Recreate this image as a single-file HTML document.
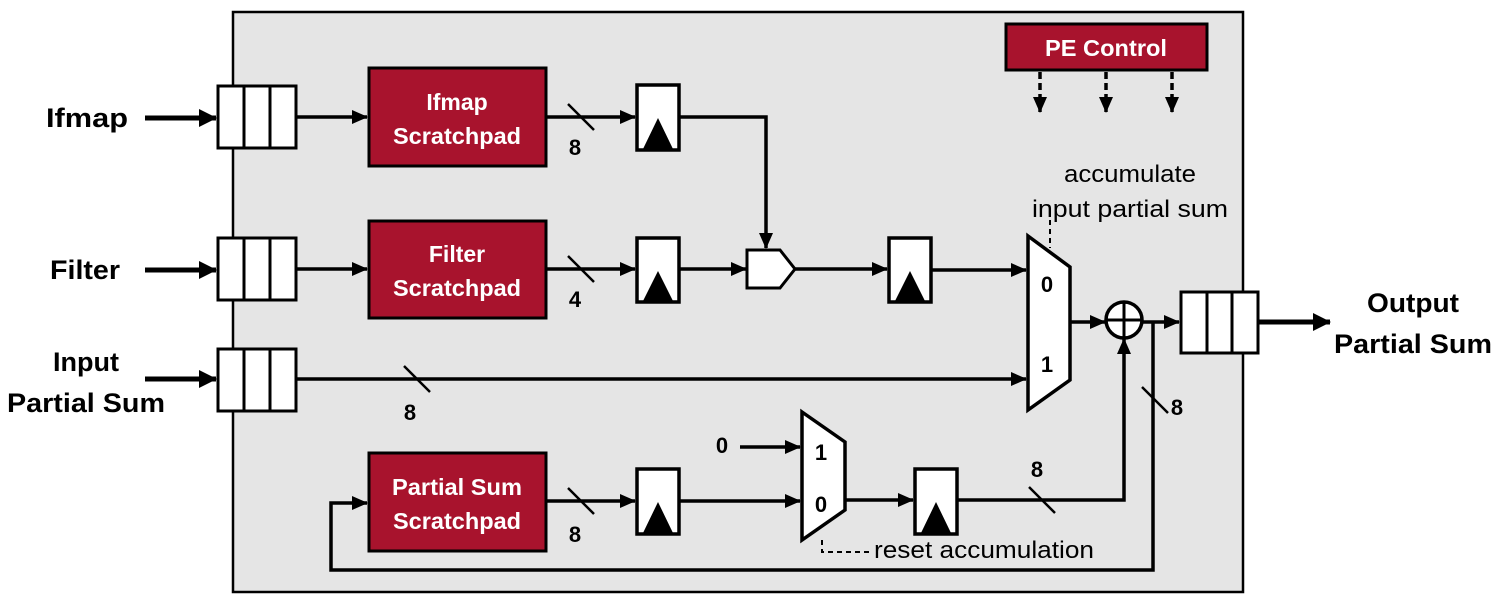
<!DOCTYPE html>
<html><head><meta charset="utf-8"><style>
html,body{margin:0;padding:0;background:#fff}
svg{display:block}
text{font-family:"Liberation Sans",sans-serif}
</style></head><body>
<svg width="1500" height="600" viewBox="0 0 1500 600" xmlns="http://www.w3.org/2000/svg">
<defs>
<marker id="a" markerWidth="16" markerHeight="16" refX="15" refY="8" orient="auto" markerUnits="userSpaceOnUse" viewBox="0 0 16 16"><path d="M0,1 L16,8 L0,15 z" fill="#000"/></marker>
<marker id="A" markerWidth="18" markerHeight="18" refX="17" refY="9" orient="auto" markerUnits="userSpaceOnUse" viewBox="0 0 18 18"><path d="M0,0 L18,9 L0,18 z" fill="#000"/></marker>
</defs>
<rect x="233" y="12" width="1010" height="580" fill="#e5e5e5" stroke="#000" stroke-width="2.5"/>

<g font-size="27" fill="#000" text-anchor="middle" font-weight="bold">
<text x="87" y="127" textLength="82" lengthAdjust="spacingAndGlyphs">Ifmap</text>
<text x="85" y="279" textLength="70" lengthAdjust="spacingAndGlyphs">Filter</text>
<text x="86" y="371" textLength="66" lengthAdjust="spacingAndGlyphs">Input</text>
<text x="86" y="412" textLength="158" lengthAdjust="spacingAndGlyphs">Partial Sum</text>
<text x="1413" y="312" textLength="92" lengthAdjust="spacingAndGlyphs">Output</text>
<text x="1413" y="353" textLength="158" lengthAdjust="spacingAndGlyphs">Partial Sum</text>
</g>

<g stroke="#000" fill="none">
<line x1="145" y1="118" x2="216" y2="118" stroke-width="5" marker-end="url(#A)"/>
<line x1="145" y1="270" x2="216" y2="270" stroke-width="5" marker-end="url(#A)"/>
<line x1="145" y1="379" x2="216" y2="379" stroke-width="5" marker-end="url(#A)"/>
<line x1="1258" y1="322" x2="1330" y2="322" stroke-width="5" marker-end="url(#A)"/>
</g>

<g fill="#fff" stroke="#000" stroke-width="3">
<rect x="218" y="86" width="78" height="62"/><line x1="244" y1="86" x2="244" y2="148"/><line x1="270" y1="86" x2="270" y2="148"/>
<rect x="218" y="238" width="78" height="62"/><line x1="244" y1="238" x2="244" y2="300"/><line x1="270" y1="238" x2="270" y2="300"/>
<rect x="218" y="349" width="78" height="62"/><line x1="244" y1="349" x2="244" y2="411"/><line x1="270" y1="349" x2="270" y2="411"/>
<rect x="1181" y="292" width="77" height="61"/><line x1="1207" y1="292" x2="1207" y2="353"/><line x1="1232" y1="292" x2="1232" y2="353"/>
</g>

<g fill="#a8132d" stroke="#000" stroke-width="3">
<rect x="369" y="68" width="177" height="98"/>
<rect x="369" y="221" width="177" height="97"/>
<rect x="369" y="453" width="177" height="98"/>
<rect x="1006" y="24" width="201" height="46"/>
</g>
<g fill="#fff" font-size="23" text-anchor="middle" font-weight="bold">
<text x="457" y="110">Ifmap</text><text x="457" y="144" textLength="128" lengthAdjust="spacingAndGlyphs">Scratchpad</text>
<text x="457" y="262">Filter</text><text x="457" y="296" textLength="128" lengthAdjust="spacingAndGlyphs">Scratchpad</text>
<text x="457" y="495" textLength="130" lengthAdjust="spacingAndGlyphs">Partial Sum</text><text x="457" y="529" textLength="128" lengthAdjust="spacingAndGlyphs">Scratchpad</text>
<text x="1106" y="56" textLength="122" lengthAdjust="spacingAndGlyphs">PE Control</text>
</g>

<g stroke="#000" stroke-width="3.5" fill="#fff">
<rect x="637" y="85" width="42" height="65"/>
<rect x="637" y="238" width="42" height="64"/>
<rect x="889" y="238" width="42" height="64"/>
<rect x="637" y="469" width="42" height="65"/>
<rect x="915" y="469" width="42" height="65"/>
</g>
<g fill="#000">
<path d="M643,149 L658,118 L673,149 z"/>
<path d="M643,301 L658,271 L673,301 z"/>
<path d="M895,301 L910,271 L925,301 z"/>
<path d="M643,533 L658,502 L673,533 z"/>
<path d="M921,533 L936,502 L951,533 z"/>
</g>

<path d="M747,250 L780,250 L795,269 L780,288 L747,288 z" fill="#fff" stroke="#000" stroke-width="3"/>

<path d="M1028,236 L1070,267 L1070,380 L1028,410 z" fill="#fff" stroke="#000" stroke-width="3.5"/>
<path d="M802,412 L845,442 L845,510 L802,540 z" fill="#fff" stroke="#000" stroke-width="3.5"/>
<g font-size="22" font-weight="bold" text-anchor="middle" fill="#000">
<text x="1047" y="292">0</text><text x="1047" y="372">1</text>
<text x="821" y="460">1</text><text x="821" y="512">0</text>
<text x="722" y="453">0</text>
<text x="575" y="155">8</text>
<text x="575" y="307">4</text>
<text x="410" y="420">8</text>
<text x="575" y="542">8</text>
<text x="1037" y="477">8</text>
<text x="1177" y="415">8</text>
</g>

<circle cx="1124" cy="320" r="18" fill="#fff" stroke="#000" stroke-width="3.5"/>
<line x1="1106" y1="320" x2="1142" y2="320" stroke="#000" stroke-width="3"/>
<line x1="1124" y1="302" x2="1124" y2="338" stroke="#000" stroke-width="3"/>

<g stroke="#000" stroke-width="3.5" fill="none">
<line x1="296" y1="117" x2="367" y2="117" marker-end="url(#a)"/>
<line x1="546" y1="117" x2="635" y2="117" marker-end="url(#a)"/>
<polyline points="679,117 766,117 766,248" marker-end="url(#a)"/>
<line x1="296" y1="269" x2="367" y2="269" marker-end="url(#a)"/>
<line x1="546" y1="269" x2="635" y2="269" marker-end="url(#a)"/>
<line x1="679" y1="269" x2="746" y2="269" marker-end="url(#a)"/>
<line x1="795" y1="269" x2="887" y2="269" marker-end="url(#a)"/>
<line x1="931" y1="270" x2="1026" y2="270" marker-end="url(#a)"/>
<line x1="296" y1="379" x2="1026" y2="379" marker-end="url(#a)"/>
<line x1="1070" y1="322" x2="1105" y2="322" marker-end="url(#a)"/>
<line x1="1142" y1="322" x2="1179" y2="322" marker-end="url(#a)"/>
<polyline points="1153,322 1153,570 331,570 331,503 367,503" marker-end="url(#a)"/>
<line x1="546" y1="501" x2="635" y2="501" marker-end="url(#a)"/>
<line x1="679" y1="501" x2="800" y2="501" marker-end="url(#a)"/>
<line x1="740" y1="447" x2="800" y2="447" marker-end="url(#a)"/>
<line x1="845" y1="500" x2="913" y2="500" marker-end="url(#a)"/>
<polyline points="957,500 1124,500 1124,339" marker-end="url(#a)"/>
<g stroke-width="2.5">
<line x1="568" y1="104" x2="594" y2="130"/>
<line x1="568" y1="256" x2="594" y2="282"/>
<line x1="404" y1="366" x2="430" y2="392"/>
<line x1="568" y1="488" x2="594" y2="514"/>
<line x1="1029" y1="487" x2="1055" y2="513"/>
<line x1="1142" y1="387" x2="1168" y2="413"/>
</g>
<g stroke-dasharray="5,4" stroke-width="2">
<line x1="1050" y1="220" x2="1050" y2="248"/>
<polyline points="822,540 822,552 870,552"/>
</g>
<g stroke-dasharray="7,4" stroke-width="3.5">
<line x1="1040" y1="72" x2="1040" y2="112" marker-end="url(#a)"/>
<line x1="1106" y1="72" x2="1106" y2="112" marker-end="url(#a)"/>
<line x1="1172" y1="72" x2="1172" y2="112" marker-end="url(#a)"/>
</g>
</g>

<g font-size="24" fill="#000">
<text x="1130" y="182" text-anchor="middle" textLength="132" lengthAdjust="spacingAndGlyphs">accumulate</text>
<text x="1130" y="217" text-anchor="middle" textLength="196" lengthAdjust="spacingAndGlyphs">input partial sum</text>
<text x="874" y="558" textLength="220" lengthAdjust="spacingAndGlyphs">reset accumulation</text>
</g>
</svg>
</body></html>
